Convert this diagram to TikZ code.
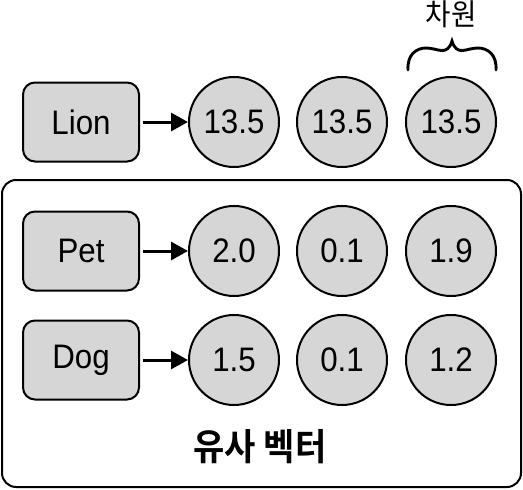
\documentclass[tikz,border=0pt]{standalone}
\usepackage{fontspec}
\setmainfont[FakeStretch=0.92]{Liberation Sans}
\newfontfamily\kr[FakeStretch=0.92]{Noto Sans CJK KR}
\newfontfamily\krb[FakeStretch=0.92]{Noto Sans CJK KR Bold}
\usetikzlibrary{arrows.meta}
\definecolor{cellgray}{HTML}{D6D6D6}
\tikzset{
  wordbox/.style={draw=black, line width=2pt, fill=cellgray, rounded corners=12pt,
    minimum width=116pt, minimum height=79pt, inner sep=0pt, font=\fontsize{34}{36}\selectfont},
  valcirc/.style={draw=black, line width=2pt, fill=cellgray, circle,
    minimum size=90pt, inner sep=0pt, font=\fontsize{34}{36}\selectfont},
  linkarrow/.style={line width=3pt, shorten <=3pt, -{Triangle[length=17pt,width=18pt]}},
  groupbox/.style={draw=black, line width=2pt, rounded corners=14pt},
}
\begin{document}
\begin{tikzpicture}[x=1pt,y=-1pt]
\useasboundingbox (0,0) rectangle (523,490);
% group box
\draw[groupbox] (2,180) rectangle (521,487);
% top row
\node[wordbox] (lion) at (81,122) {Lion};
\node[valcirc] (l1) at (234,122) {13.5};
\node[valcirc] (l2) at (342,122) {13.5};
\node[valcirc] (l3) at (451,122) {13.5};
\draw[linkarrow] (lion) -- (l1);
% brace
\coordinate (bl) at (408,70);
\coordinate (bt) at (452,41);
\coordinate (br) at (496,70);
\draw[line width=2.9pt, line cap=round, line join=miter]
  (bl) .. controls (407,55) and (416,48) .. (426,48)
       .. controls (438,48) and (447,57) .. (bt)
       .. controls (457,57) and (466,48) .. (478,48)
       .. controls (488,48) and (497,55) .. (br);
\node[font=\kr\fontsize{30}{32}\selectfont] (dim) at (451,14) {차원};
% pet row
\node[wordbox] (pet) at (81,251) {Pet};
\node[valcirc] (p1) at (234,251) {2.0};
\node[valcirc] (p2) at (342,251) {0.1};
\node[valcirc] (p3) at (451,251) {1.9};
\draw[linkarrow] (pet) -- (p1);
% dog row
\node[wordbox] (dog) at (81,360) {Dog};
\node[valcirc] (d1) at (234,360) {1.5};
\node[valcirc] (d2) at (342,360) {0.1};
\node[valcirc] (d3) at (451,360) {1.2};
\draw[linkarrow] (dog) -- (d1);
% caption
\node[font=\krb\fontsize{37}{39}\selectfont] (cap) at (260,447) {유사 벡터};
\end{tikzpicture}
\end{document}
